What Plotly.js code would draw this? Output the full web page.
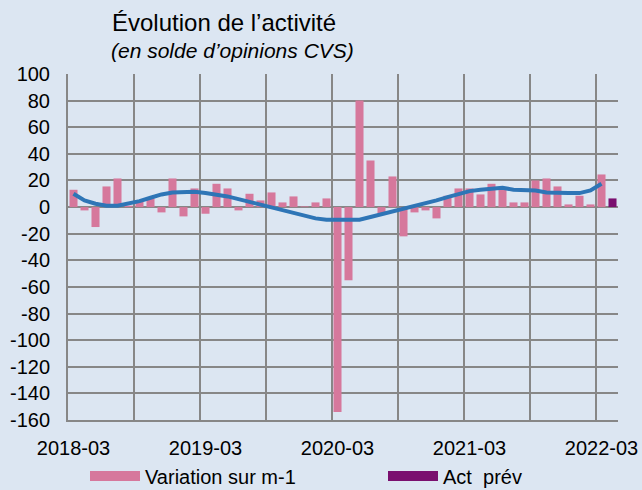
<!DOCTYPE html>
<html>
<head>
<meta charset="utf-8">
<script src="https://cdn.plot.ly/plotly-3.0.1.min.js"></script>
<style>
  html, body { margin: 0; padding: 0; background: #dce6f2; }
  #chart { width: 642px; height: 490px; }
</style>
</head>
<body>
<div id="chart"></div>
<script>
// Months (categories), 2018-03 .. 2022-04
const months = [
  '2018-03','2018-04','2018-05','2018-06','2018-07','2018-08','2018-09','2018-10','2018-11','2018-12',
  '2019-01','2019-02','2019-03','2019-04','2019-05','2019-06','2019-07','2019-08','2019-09','2019-10',
  '2019-11','2019-12','2020-01','2020-02','2020-03','2020-04','2020-05','2020-06','2020-07','2020-08',
  '2020-09','2020-10','2020-11','2020-12','2021-01','2021-02','2021-03','2021-04','2021-05','2021-06',
  '2021-07','2021-08','2021-09','2021-10','2021-11','2021-12','2022-01','2022-02','2022-03','2022-04'
];

// Variation sur m-1 (2018-03 .. 2022-03)
const variation = [
  13, -2.5, -15, 15.5, 21.5, 1, 4, 6.5, -4, 21.5,
  -7, 14, -5, 17.5, 14, -2.5, 10, 5, 11, 3.5,
  8, 0.5, 3.5, 6.5, -154, -55, 80, 35, -5, 23,
  -22, -4, -2.5, -8.5, 8.5, 14, 14, 9.5, 17.5, 13,
  3.5, 3.5, 20, 21.5, 15.5, 2, 8.5, 2, 24.5
];

// Act prév (2022-04)
const actPrevMonths = ['2022-04'];
const actPrev = [6.5];

// Tendance (ligne bleue), 2018-03 .. 2022-03
const tendance = [
  10, 5, 2.5, 1, 1, 2.5, 4.5, 7, 9.5, 11,
  11.5, 11.5, 10.5, 9.5, 8, 6, 4, 2, 0, -2,
  -4, -6.5, -8.5, -9.5, -9.5, -9.5, -9.5, -7.5, -5.5, -3.5,
  -1.5, 1, 3, 5, 7.5, 10, 12, 13, 13.5, 14.5,
  13, 13, 12.5, 11, 10.5, 10.5, 10.5, 12.5, 17.5
];

// Axis ticks
const xLabels = ['2018-03','2019-03','2020-03','2021-03','2022-03'];
const gridMonths = ['2018-03','2018-09','2019-03','2019-09','2020-03','2020-09','2021-03','2021-09','2022-03'];
const yTickVals = [100, 80, 60, 40, 20, 0, -20, -40, -60, -80, -100, -120, -140, -160];
const yTickText = ['100','80','60','40','20','0','-20','-40','-60','-80','-100','-120','-140','-160'];

const idx = m => months.indexOf(m);
const font = 'Liberation Sans, Arial, sans-serif';
const pink = '#d6789c';
const purple = '#7a0f6f';
const blue = '#2e75b6';
const grid = '#878787';

const traces = [
  {
    type: 'bar', name: 'Variation sur m-1', showlegend: false,
    x: variation.map((v, i) => i), y: variation,
    marker: { color: pink }, hoverinfo: 'skip'
  },
  {
    type: 'bar', name: 'Act  prév', showlegend: false,
    x: actPrevMonths.map(idx), y: actPrev,
    marker: { color: purple }, hoverinfo: 'skip'
  },
  {
    type: 'scatter', mode: 'lines', name: 'Tendance', showlegend: false,
    x: tendance.map((v, i) => i), y: tendance,
    line: { color: blue, width: 4 }, hoverinfo: 'skip'
  },
  // legend-only entries
  { type: 'scatter', mode: 'lines', name: 'Variation sur m-1', x: [null], y: [null],
    line: { color: pink, width: 12 }, legend: 'legend' },
  { type: 'scatter', mode: 'lines', name: 'Act\u00a0 prév', x: [null], y: [null],
    line: { color: purple, width: 12 }, legend: 'legend2' },
  // invisible trace carrying the labelled axis
  { type: 'scatter', mode: 'markers', x: [null], y: [null], xaxis: 'x2', showlegend: false,
    hoverinfo: 'skip' }
];

const xRange = [-0.5, months.length - 0.5];

const legendBase = {
  orientation: 'h',
  xref: 'container', yref: 'container',
  xanchor: 'left',
  y: 14 / 490, yanchor: 'middle',
  itemwidth: 50,
  font: { family: font, size: 20, color: '#000' },
  bgcolor: 'rgba(0,0,0,0)'
};

const layout = {
  width: 642, height: 490,
  paper_bgcolor: '#dce6f2', plot_bgcolor: '#dce6f2',
  margin: { l: 68, r: 24, t: 74, b: 70 },
  font: { family: font, size: 20, color: '#000' },
  title: {
    text: 'Évolution de l’activité',
    xref: 'container', yref: 'container',
    x: 112 / 642, xanchor: 'left',
    y: 1 - 31 / 490, yanchor: 'bottom',
    automargin: false,
    font: { family: font, size: 24, color: '#000' }
  },
  annotations: [{
    text: '<i>(en solde d’opinions CVS)</i>',
    xref: 'paper', yref: 'paper',
    x: (109 - 68) / 550, xanchor: 'left',
    y: (420 - 50) / 346, yanchor: 'middle',
    showarrow: false,
    font: { family: font, size: 21, color: '#000' }
  }],
  barmode: 'overlay',
  bargap: 0.27,
  xaxis: {
    type: 'linear', range: xRange,
    tickvals: gridMonths.map(m => idx(m) - 0.5),
    showticklabels: false, ticks: '',
    showgrid: true, gridcolor: grid, gridwidth: 2,
    zeroline: false,
    showline: true, linecolor: grid, linewidth: 2
  },
  xaxis2: {
    type: 'linear', range: xRange, overlaying: 'x', side: 'bottom',
    tickvals: xLabels.map(idx), ticktext: xLabels,
    showgrid: false, zeroline: false, showline: false,
    ticks: '', ticklabelstandoff: 14,
    tickfont: { family: font, size: 20, color: '#000' }
  },
  yaxis: {
    range: [-160, 100],
    tickvals: yTickVals, ticktext: yTickText,
    showgrid: true, gridcolor: grid, gridwidth: 2,
    zeroline: false,
    showline: true, linecolor: grid, linewidth: 2,
    ticks: '', ticklabelstandoff: 12,
    tickfont: { family: font, size: 20, color: '#000' }
  },
  legend: Object.assign({}, legendBase, { x: 85 / 642 }),
  legend2: Object.assign({}, legendBase, { x: 383 / 642 }),
  showlegend: true
};

Plotly.newPlot('chart', traces, layout, { displayModeBar: false, staticPlot: true });
</script>
</body>
</html>
